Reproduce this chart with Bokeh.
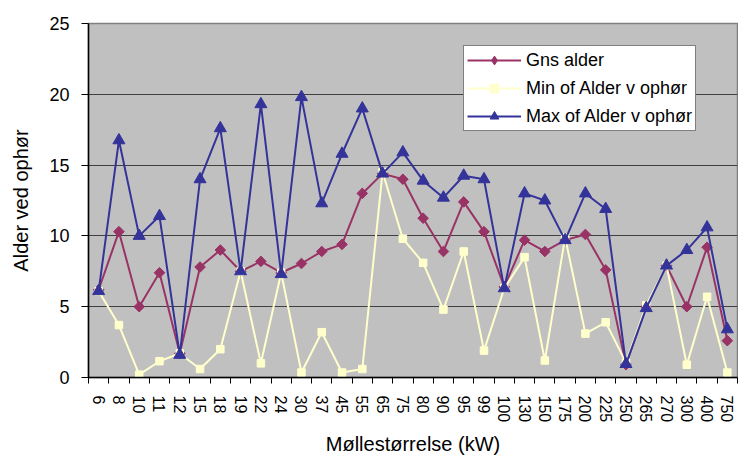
from math import pi
from bokeh.plotting import figure
from bokeh.models import (ColumnDataSource, Range1d, FixedTicker, Legend, LegendItem, LinearAxis)
from bokeh.embed import file_html
from bokeh.resources import INLINE

categories = ["6", "8", "10", "11", "12", "15", "18", "19", "22", "24", "30", "37",
              "45", "55", "65", "75", "80", "90", "95", "99", "100", "130", "150",
              "175", "200", "225", "250", "265", "270", "300", "400", "750"]

gns_alder = [6.2, 10.3, 5.0, 7.4, 1.7, 7.8, 9.0, 7.5, 8.2, 7.4, 8.05, 8.9,
             9.4, 13.0, 14.4, 14.0, 11.25, 8.9, 12.4, 10.3, 6.4, 9.7, 8.9,
             9.7, 10.1, 7.6, 0.9, 5.0, 7.9, 5.0, 9.2, 2.6]

min_alder = [6.1, 3.7, 0.2, 1.15, 1.7, 0.6, 2.0, 7.5, 1.0, 7.4, 0.35, 3.2,
             0.35, 0.6, 14.5, 9.8, 8.1, 4.8, 8.9, 1.9, 6.3, 8.5, 1.2,
             9.9, 3.1, 3.9, 1.05, 5.1, 7.9, 0.9, 5.7, 0.35]

max_alder = [6.1, 16.75, 10.0, 11.4, 1.6, 14.0, 17.6, 7.5, 19.3, 7.3, 19.8, 12.3,
             15.8, 19.0, 14.4, 15.9, 13.9, 12.7, 14.25, 14.0, 6.3, 13.0, 12.5,
             9.7, 13.0, 11.9, 0.95, 4.9, 7.9, 9.0, 10.6, 3.4]

y_ticks = [0, 5, 10, 15, 20, 25]

series_names = ["Gns alder", "Min of Alder v ophør", "Max of Alder v ophør"]

FONT = "Liberation Sans"
idx = list(range(len(categories)))
src = ColumnDataSource(dict(x=idx, gns=gns_alder, mn=min_alder, mx=max_alder))

p = figure(width=738, height=458, output_backend="svg", toolbar_location=None,
           x_range=Range1d(-0.5, len(categories) - 0.5), y_range=Range1d(0, 25),
           min_border_left=88, min_border_right=1, min_border_top=23, min_border_bottom=75)

p.background_fill_color = "#C0C0C0"
p.border_fill_color = "white"
p.outline_line_color = "#808080"
p.outline_line_width = 1.5

# x axis 1: axis line + tick marks between categories (labels not drawn)
p.xaxis.ticker = FixedTicker(ticks=[i - 0.5 for i in range(len(categories) + 1)])
p.xaxis.major_label_text_font_size = "0px"
p.xaxis.major_label_text_color = None
p.xaxis.major_label_standoff = 0
p.xaxis.major_tick_line_color = "black"
p.xaxis.major_tick_line_width = 1
p.xaxis.major_tick_out = 6
p.xaxis.major_tick_in = 0
p.xaxis.minor_tick_line_color = None
p.xaxis.axis_line_color = "black"
p.xaxis.axis_line_width = 1.5

# x axis 2: category labels + title
xlab = LinearAxis(ticker=FixedTicker(ticks=idx))
xlab.major_label_overrides = {i: c for i, c in enumerate(categories)}
xlab.axis_line_color = None
xlab.major_tick_line_color = None
xlab.minor_tick_line_color = None
xlab.major_label_orientation = "vertical"
xlab.major_label_text_font = FONT
xlab.major_label_text_font_size = "16px"
xlab.major_label_text_color = "black"
xlab.major_label_standoff = 6
xlab.axis_label = "Møllestørrelse (kW)"
xlab.axis_label_text_font = FONT
xlab.axis_label_text_font_size = "20px"
xlab.axis_label_text_font_style = "normal"
xlab.axis_label_text_color = "black"
xlab.axis_label_standoff = 8
p.add_layout(xlab, "below")

p.yaxis.ticker = FixedTicker(ticks=y_ticks)
p.yaxis.minor_tick_line_color = None
p.yaxis.major_tick_out = 7
p.yaxis.major_tick_in = 0
p.yaxis.major_tick_line_color = "black"
p.yaxis.major_label_text_font = FONT
p.yaxis.major_label_text_font_size = "18px"
p.yaxis.major_label_text_color = "black"
p.yaxis.major_label_standoff = 12
p.yaxis.axis_label = "Alder ved ophør"
p.yaxis.axis_label_text_font = FONT
p.yaxis.axis_label_text_font_size = "20px"
p.yaxis.axis_label_text_font_style = "normal"
p.yaxis.axis_label_text_color = "black"
p.yaxis.axis_label_standoff = 14
p.yaxis.axis_line_color = "black"
p.yaxis.axis_line_width = 1.5

p.xgrid.grid_line_color = None
p.ygrid.grid_line_color = "#404040"
p.ygrid.grid_line_width = 1

# series
gl = p.line("x", "gns", source=src, line_color="#993366", line_width=2)
# narrow diamond (used as legend swatch), fully covered by the rotated square below
gleg = p.scatter("x", "gns", source=src, marker="diamond", size=9,
                 fill_color="#993366", line_color="#993366")
gm = p.scatter("x", "gns", source=src, marker="square", angle=pi / 4, size=7.5,
               fill_color="#993366", line_color="#993366")
nl = p.line("x", "mn", source=src, line_color="#FFFFCC", line_width=2)
nm = p.scatter("x", "mn", source=src, marker="square", size=7.5,
               fill_color="#FFFFCC", line_color="#FFFFCC")
xl = p.line("x", "mx", source=src, line_color="#333399", line_width=2)
xm = p.scatter("x", "mx", source=src, marker="triangle", size=12,
               fill_color="#333399", line_color="#333399")

legend = Legend(items=[
    LegendItem(label=series_names[0], renderers=[gl, gleg]),
    LegendItem(label=series_names[1], renderers=[nl, nm]),
    LegendItem(label=series_names[2], renderers=[xl, xm]),
], location=(375, 246))
legend.label_text_font = FONT
legend.label_text_font_size = "18px"
legend.label_text_color = "black"
legend.label_height = 22
legend.glyph_height = 22
legend.glyph_width = 54
legend.label_standoff = 5
legend.spacing = 6
legend.padding = 3
legend.margin = 0
legend.border_line_color = "black"
legend.border_line_width = 1
legend.background_fill_color = "white"
legend.background_fill_alpha = 1
p.add_layout(legend, "center")

open("out.html", "w").write(file_html(p, INLINE))
